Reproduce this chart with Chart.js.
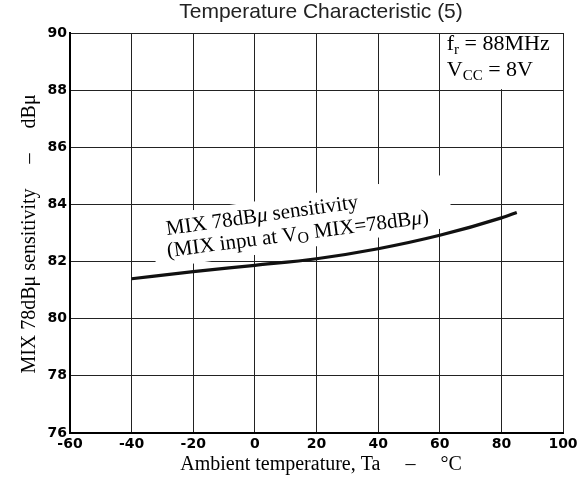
<!DOCTYPE html>
<html>
<head>
<meta charset="utf-8">
<script src="https://cdn.jsdelivr.net/npm/chart.js@4"></script>
<style>
  html, body { margin: 0; padding: 0; background: #fff; }
  #wrap { width: 581px; height: 486px; }
</style>
</head>
<body>
<div id="wrap"><canvas id="chart" width="581" height="486"></canvas></div>
<script>
// ── data ─────────────────────────────────────────────
const temps  = [-40, -20, 0, 20, 40, 60, 80, 85];
const sens   = [81.4, 81.65, 81.87, 82.1, 82.45, 82.92, 83.53, 83.72];
const xTicks = [-60, -40, -20, 0, 20, 40, 60, 80, 100];
const yTicks = [76, 78, 80, 82, 84, 86, 88, 90];

const titleText = 'Temperature Characteristic (5)';
const xTitle = 'Ambient temperature, Ta     \u2013     \u00B0C';
const yTitle = 'MIX 78dB\u03BC sensitivity     \u2013     dB\u03BC';

const SERIF = "'Liberation Serif', 'Times New Roman', serif";
const SANS  = "'Liberation Sans', Arial, sans-serif";

// draw a run of text pieces with own font / vertical shift
function drawRuns(ctx, x, y, runs) {
  let cx = x;
  runs.forEach(r => {
    ctx.font = r.font;
    ctx.fillText(r.t, cx, y + (r.dy || 0));
    cx += ctx.measureText(r.t).width;
  });
}

const decor = {
  id: 'decor',
  beforeDatasetsDraw(chart) {
    const ctx = chart.ctx;
    const xs = chart.scales.x, ys = chart.scales.y;
    ctx.save();
    ctx.fillStyle = '#000';
    ctx.textBaseline = 'alphabetic';
    ctx.textAlign = 'left';

    // condition box, top right cell
    const bx0 = xs.getPixelForValue(60), bx1 = xs.getPixelForValue(100);
    const by0 = ys.getPixelForValue(90), by1 = ys.getPixelForValue(88);
    ctx.fillStyle = '#fff';
    ctx.fillRect(bx0 + 1, by0 + 1, bx1 - bx0 - 2, by1 - by0 - 2);
    ctx.fillStyle = '#000';
    const f22 = '22px ' + SERIF, f15 = '15px ' + SERIF;
    drawRuns(ctx, bx0 + 7, by0 + 17, [
      { t: 'f', font: f22 }, { t: 'r', font: f15, dy: 4 }, { t: ' = 88MHz', font: f22 }
    ]);
    drawRuns(ctx, bx0 + 7, by0 + 43, [
      { t: 'V', font: f22 }, { t: 'CC', font: f15, dy: 4 }, { t: ' = 8V', font: f22 }
    ]);

    // curve label, slanted, on a white patch
    ctx.translate(167, 235);
    ctx.rotate(-8 * Math.PI / 180);
    ctx.fillStyle = '#fff';
    ctx.fillRect(-15, -21, 300, 53);
    ctx.fillStyle = '#000';
    const f21 = '21px ' + SERIF, fi = 'italic 21px ' + SERIF, fs = '16px ' + SERIF;
    drawRuns(ctx, 0, 0, [
      { t: 'MIX 78dB', font: f21 }, { t: '\u03BC', font: fi }, { t: ' sensitivity', font: f21 }
    ]);
    ctx.rotate(0.6 * Math.PI / 180);
    drawRuns(ctx, -2, 22, [
      { t: '(MIX inpu at V', font: f21 }, { t: 'O', font: fs, dy: 3 },
      { t: ' MIX=78dB', font: f21 }, { t: '\u03BC', font: fi }, { t: ')', font: f21 }
    ]);
    ctx.restore();
  },
  afterDraw(chart) {
    const ctx = chart.ctx;
    ctx.save();
    ctx.textAlign = 'center';
    ctx.textBaseline = 'alphabetic';
    ctx.fillStyle = '#222';
    ctx.font = '21px ' + SANS;
    ctx.fillText(titleText, 321, 18);

    ctx.fillStyle = '#000';
    ctx.font = '20px ' + SERIF;
    ctx.fillText(xTitle, 321, 470);

    ctx.translate(35, 234);
    ctx.rotate(-Math.PI / 2);
    ctx.fillText(yTitle, 0, 0);
    ctx.restore();
  }
};

const tickFont = { family: "'DejaVu Sans', sans-serif", size: 14, weight: 'bold' };

new Chart(document.getElementById('chart'), {
  type: 'line',
  data: {
    datasets: [{
      data: temps.map((t, i) => ({ x: t, y: sens[i] })),
      borderColor: '#111',
      borderWidth: 3.2,
      pointRadius: 0,
      fill: false,
      cubicInterpolationMode: 'monotone'
    }]
  },
  options: {
    responsive: false,
    animation: false,
    layout: { padding: { top: 33, right: 18, left: 0, bottom: 0 } },
    plugins: { legend: { display: false }, tooltip: { enabled: false }, title: { display: false } },
    scales: {
      x: {
        type: 'linear', min: -60, max: 100,
        afterBuildTicks: s => { s.ticks = xTicks.map(v => ({ value: v })); },
        afterFit: s => { s.height = 53; },
        grid: { color: '#222', lineWidth: 1, drawTicks: false },
        border: { color: '#000', width: 2 },
        ticks: { color: '#000', font: tickFont, padding: 3, maxRotation: 0, autoSkip: false }
      },
      y: {
        type: 'linear', min: 76, max: 90,
        afterBuildTicks: s => { s.ticks = yTicks.map(v => ({ value: v })); },
        afterFit: s => { s.width = 70; },
        grid: { color: '#222', lineWidth: 1, drawTicks: false },
        border: { color: '#000', width: 2 },
        ticks: { color: '#000', font: tickFont, padding: 3, autoSkip: false }
      }
    }
  },
  plugins: [decor]
});
</script>
</body>
</html>
